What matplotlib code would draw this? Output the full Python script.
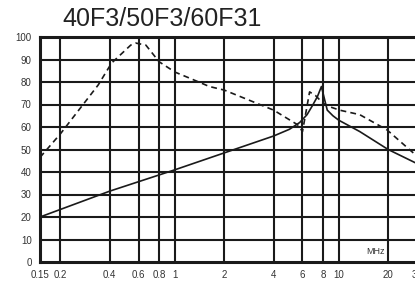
import matplotlib
matplotlib.use("Agg")
import matplotlib.pyplot as plt

plt.rcParams['font.family'] = ['Liberation Sans', 'DejaVu Sans']

title = "40F3/50F3/60F31"
xticks = [0.15, 0.2, 0.4, 0.6, 0.8, 1, 2, 4, 6, 8, 10, 20, 30]
xticklabels = ["0.15", "0.2", "0.4", "0.6", "0.8", "1", "2", "4", "6", "8", "10", "20", "30"]
yticks = [0, 10, 20, 30, 40, 50, 60, 70, 80, 90, 100]

solid_f = [0.15, 0.4, 1.0, 2.0, 4.0, 5.0, 5.77, 6.4, 6.9, 7.4, 7.83, 8.2, 8.5, 9.2, 10.0, 13.4, 20.0, 29.5]
solid_v = [20, 31.5, 41, 48.5, 56, 59, 62, 65.5, 69.5, 73.5, 78, 72, 67.5, 65, 63, 58, 50, 44]

dash_f = [0.15, 0.2, 0.34, 0.41, 0.537, 0.576, 0.664, 0.8, 1.0, 1.22, 1.62, 2.0, 4.0,
          5.6, 6.0, 6.63, 7.2, 8.0, 8.8, 10.1, 13.4, 19.7, 29.5]
dash_v = [46.5, 57, 78.7, 88.4, 96.4, 97.3, 96.4, 89, 84.4, 81.8, 78, 76.4, 67.5,
          61, 58, 75.6, 74, 70.6, 69, 67.5, 65.5, 58.7, 47.5]

fig = plt.figure(figsize=(4.15, 2.86), dpi=100)
ax = fig.add_axes([40/415, 1-262/286, (417-40)/415, (262-37)/286])
ax.set_xscale('log')
ax.set_xlim(0.15, 30)
ax.set_ylim(0, 100)

ink = '#1a1a1a'
for xv in xticks[1:-1]:
    ax.axvline(xv, color=ink, lw=1.5, zorder=1)
for yv in yticks[1:-1]:
    ax.axhline(yv, color=ink, lw=1.5, zorder=1)

ax.plot(solid_f, solid_v, color=ink, lw=1.2, zorder=3)
ax.plot(dash_f, dash_v, color=ink, lw=1.2, linestyle=(0, (3.5, 2.5)), zorder=3)

ax.set_xticks(xticks)
ax.set_xticklabels(xticklabels)
ax.xaxis.set_minor_locator(matplotlib.ticker.NullLocator())
ax.set_yticks(yticks)
ax.tick_params(length=0, labelsize=7, colors='#333333', pad=6)
for s in ax.spines.values():
    s.set_linewidth(2.2)
    s.set_color(ink)

ax.text(0.89, 0.045, "MHz", transform=ax.transAxes, fontsize=6.5, color='#333333',
        ha='center', va='center')

fig.text(162/415, 1-18.5/286, title, fontsize=18, color='#222222', ha='center', va='center')

fig.savefig("out.png", dpi=100)
